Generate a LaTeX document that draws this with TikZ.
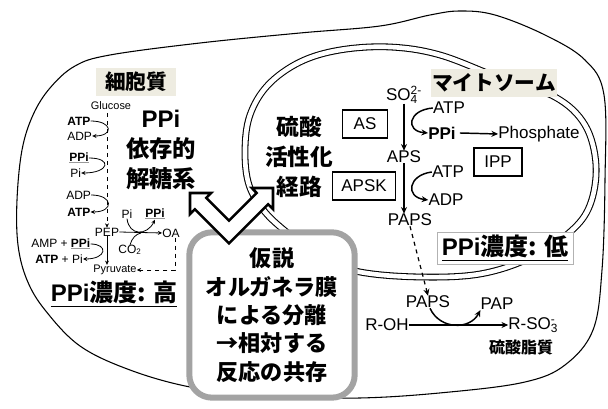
\documentclass[tikz,border=0pt]{standalone}
\usepackage{fontspec}
\setmainfont{Liberation Sans}
\newfontfamily\jp{Noto Sans CJK JP}
\usetikzlibrary{arrows.meta}
\definecolor{beigebg}{RGB}{238,236,225}
\definecolor{framegray}{RGB}{163,163,163}
\newcommand{\fsz}[1]{\fontsize{#1}{#1}\selectfont}
% bold text with a grey rule under it
\newcommand{\grayul}[1]{\setbox0\hbox{#1}\rlap{\color{black!40}\rule[-1.6pt]{\wd0}{0.9pt}}\box0}

\begin{document}
\begin{tikzpicture}[x=0.75pt,y=-0.75pt,
  every node/.style={inner sep=0pt},
  sm/.style={font=\fsz{8.2}},
  lab/.style={font=\fsz{9}},
  mid/.style={font=\fsz{12.75}},
  titlebox/.style={fill=beigebg, font=\fsz{15.5}\jp\bfseries, minimum height=21pt},
  enzyme/.style={draw, line width=0.8pt, font=\fsz{12.75}, minimum height=21pt},
  rx/.style={line width=1.1pt, -{Stealth[length=5pt,width=4.5pt]}},
  srx/.style={line width=0.6pt, -{Stealth[length=3.2pt,width=3pt]}},
  membrane/.style={line width=0.8pt},
]
\useasboundingbox (0,0) rectangle (608,409);

% cell membrane
\draw[membrane] plot[smooth cycle, tension=0.6] coordinates {
  (75,66) (110,55) (200,43) (300,33) (380,26) (430,15) (460,11) (495,15)
  (545,35) (585,60) (604,95) (605,180) (602,270) (593,330) (565,365)
  (525,382) (450,392) (360,398) (260,396) (190,387) (130,370) (80,346)
  (45,310) (27,280) (18,245) (17,200) (22,150) (33,115) (50,88)};

% mitosome double membrane
\draw[membrane, double=white, double distance=3.5pt] plot[smooth cycle, tension=0.6] coordinates {
  (249,185) (245,150) (250,115) (268,85) (300,62) (340,50) (390,47)
  (440,55) (500,78) (555,97) (585,125) (596,165) (590,205) (570,232)
  (530,258) (480,274) (420,277) (360,272) (320,258) (290,235) (265,212)};

% compartment titles
\node[titlebox, minimum width=60pt] (cyto) at (136,82) {細胞質};
\node[titlebox, minimum width=94pt] (mito) at (494,83) {マイトソーム};

% PPi-dependent glycolysis
\node[align=center, font=\fontsize{17.5}{22.5}\selectfont\jp\bfseries] (glyco) at (161,150)
  {{\rmfamily\bfseries\fsz{18}PPi}\\依存的\\解糖系};

\node[sm] (glc) at (111,106) {Glucose};
\node[lab, anchor=west] (atp1) at (67,121) {\textbf{ATP}};
\node[lab, anchor=west] (adp1) at (67,136) {ADP};
\node[lab, anchor=west] (ppi1) at (69,158) {\grayul{\textbf{PPi}}};
\node[lab, anchor=west] (pi1) at (70,173) {Pi};
\node[lab, anchor=west] (adp2) at (66,195) {ADP};
\node[lab, anchor=west] (atp2) at (67,212) {\textbf{ATP}};
\node[lab] (pep) at (107,232) {PEP};
\node[lab, anchor=west] (amp) at (31,244) {AMP + \grayul{\textbf{PPi}}};
\node[lab, anchor=west] (atppi) at (35,259) {\textbf{ATP} + Pi};
\node[sm] (pyr) at (115,270) {Pyruvate};
\node[lab] (pi2) at (127,214) {Pi};
\node[lab] (ppi2) at (155,214) {\grayul{\textbf{PPi}}};
\node[lab] (co2) at (130,250) {CO\textsubscript{2}};
\node[lab] (oa) at (171,233) {OA};
\coordinate (join) at (141,233);

\draw[srx, dashed] (pep.north |- glc.south) ++(0,3) -- (pep.north);
\draw[srx] (atp1.east) .. controls +(22,0) and +(22,0) .. (adp1.east);
\draw[srx] (ppi1.east) .. controls +(24,0) and +(28,0) .. (pi1.east);
\draw[srx] (adp2.east) .. controls +(22,0) and +(24,0) .. (atp2.east);
\draw[srx] (pep.south) -- (pep.south |- pyr.north);
\draw[srx] (amp.east) .. controls +(18,0) and +(24,0) .. (atppi.east);
\draw[srx] (pep.east) -- (oa.west);
\draw[srx] (pi2.south) .. controls (129,236) and (147,236) .. (ppi2.south);
\draw[line width=0.6pt] (co2.north) .. controls (132,238) and (136,234) .. (join);
\draw[srx, dashed] ([xshift=3pt]oa.south) |- (pyr.east);

\node[font=\fsz{18}\jp\bfseries] (hiconc) at (114,294) {\underline{{\rmfamily\bfseries PPi}濃度: 高}};

% sulfate activation pathway
\node[align=center, font=\fontsize{17}{22.5}\selectfont\jp\bfseries] (sulf) at (299,157) {硫酸\\活性化\\経路};

\node[enzyme, minimum width=34pt] (as) at (365,124) {AS};
\node[enzyme, minimum width=47pt] (apsk) at (364,186) {APSK};
\node[enzyme, minimum width=36pt] (ipp) at (498,162) {IPP};

\node[mid] (so4) at (404,95) {SO\rlap{\textsubscript{4}}\textsuperscript{2-}};
\node[mid] (atp3) at (449,108) {ATP};
\node[mid] (ppi3) at (442,133) {\textbf{PPi}};
\node[mid] (phos) at (539,134) {Phosphate};
\node[mid] (aps) at (404,157) {APS};
\node[mid] (atp4) at (448,172) {ATP};
\node[mid] (adp4) at (446,200) {ADP};
\node[mid] (paps1) at (410,220) {PAPS};

\draw[rx] (so4.south -| aps.north) -- (aps.north);
\draw[rx] (atp3.west) .. controls (408,110) and (405,131) .. (ppi3.west);
\draw[rx] (ppi3.east) ++(4,0) -- (phos.west);
\draw[rx] (aps.south) -- (aps.south |- paps1.north);
\draw[rx] (atp4.west) .. controls (408,175) and (405,197) .. (adp4.west);

\node[draw=black!30, line width=0.6pt, fill=white, minimum width=102pt, minimum height=24pt,
  font=\fsz{18}\jp\bfseries] (loconc) at (505,248) {\underline{{\rmfamily\bfseries PPi}濃度: 低}};

\node[mid] (paps2) at (428,302) {PAPS};
\node[mid] (pap) at (497,304) {PAP};
\node[mid] (roh) at (387,325) {R-OH};
\node[mid] (rso3) at (532,325) {R-SO\rlap{\textsubscript{3}}\textsuperscript{-}};
\node[font=\fsz{12}\jp\bfseries] (lipid) at (521,347) {硫酸脂質};

\draw[rx, dashed, line width=0.9pt] (paps1.south) -- (paps2.north);
\draw[rx] (roh.east) -- (rso3.west);
\draw[rx] (paps2.south) ++(2,0) .. controls (440,330) and (470,330) .. (pap.south west);

% hypothesis
\node[draw=framegray, line width=4.5pt, fill=white, rounded corners=17pt,
  minimum width=124pt, minimum height=124pt, align=center,
  font=\fontsize{16.6}{21.25}\selectfont\jp\bfseries] (hyp) at (272,315)
  {仮説\\オルガネラ膜\\による分離\\→相対する\\反応の共存};

% two-headed bent arrow
\draw[line width=1.9pt, fill=white, line join=miter]
  (190,193) -- (211.2,193) -- (206.3,197.9) -- (229,220.6) -- (256.7,193)
  -- (251.8,188) -- (273,188) -- (273,209.2) -- (268.1,204.3) -- (229,243.4)
  -- (194.9,209.3) -- (190,214.2) -- cycle;
\end{tikzpicture}
\end{document}
